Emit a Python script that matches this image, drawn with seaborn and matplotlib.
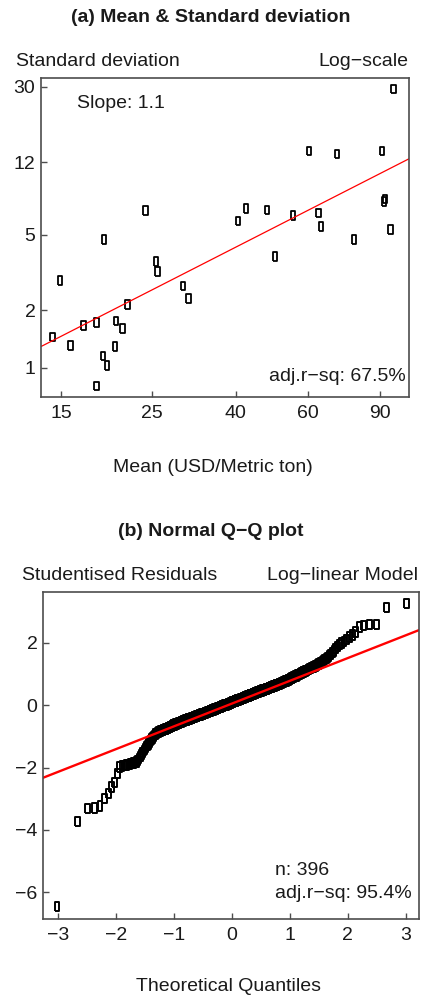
import matplotlib
matplotlib.use('Agg')
import matplotlib.pyplot as plt
import matplotlib.ticker as mticker
import seaborn as sns
import pandas as pd
import numpy as np
from statistics import NormalDist

# (a) mean vs standard deviation of prices (USD/metric ton)
mean_price = [14.3, 14.9, 15.8, 17.0, 18.3, 18.3, 19.0, 19.1, 19.4, 20.3, 20.4,
              21.2, 21.8, 24.1, 25.6, 25.8, 29.8, 30.7, 40.6, 42.4, 47.7, 49.9,
              55.3, 60.5, 63.7, 64.7, 70.8, 77.8, 91.0, 92.0, 92.5, 95.6, 97.2]
sd_price = [1.45, 2.86, 1.31, 1.66, 1.73, 0.80, 1.15, 4.74, 1.03, 1.29, 1.76,
            1.60, 2.14, 6.70, 3.60, 3.19, 2.69, 2.32, 5.90, 6.85, 6.75, 3.84,
            6.30, 13.8, 6.50, 5.52, 13.3, 4.74, 13.8, 7.50, 7.70, 5.31, 29.2]
fit_slope_a = 1.1          # log-log fit
fit_intercept_a = -2.6
adj_r2_a = 67.5

# (b) sorted studentised residuals of the log-linear model
resid_sorted = [
    -6.46, -3.74, -3.31, -3.30, -3.23, -2.99, -2.83, -2.62, -2.49, -2.19,
    -1.98, -1.95, -1.94, -1.92, -1.90, -1.89, -1.88, -1.86, -1.84, -1.82,
    -1.77, -1.72, -1.65, -1.58, -1.51, -1.45, -1.40, -1.34, -1.29, -1.24,
    -1.19, -1.14, -1.09, -1.05, -1.01, -0.98, -0.95, -0.92, -0.90, -0.88,
    -0.86, -0.85, -0.84, -0.83, -0.82, -0.81, -0.80, -0.79, -0.78, -0.77,
    -0.76, -0.75, -0.74, -0.73, -0.72, -0.71, -0.70, -0.69, -0.68, -0.67,
    -0.65, -0.64, -0.64, -0.63, -0.62, -0.61, -0.61, -0.60, -0.59, -0.58,
    -0.57, -0.57, -0.56, -0.55, -0.55, -0.54, -0.53, -0.53, -0.52, -0.51,
    -0.50, -0.50, -0.49, -0.49, -0.48, -0.47, -0.47, -0.46, -0.46, -0.45,
    -0.44, -0.44, -0.43, -0.43, -0.42, -0.42, -0.41, -0.41, -0.40, -0.40,
    -0.39, -0.39, -0.38, -0.37, -0.37, -0.36, -0.36, -0.35, -0.35, -0.34,
    -0.34, -0.33, -0.33, -0.32, -0.32, -0.31, -0.31, -0.30, -0.30, -0.29,
    -0.29, -0.28, -0.28, -0.27, -0.27, -0.26, -0.26, -0.25, -0.25, -0.24,
    -0.24, -0.23, -0.23, -0.22, -0.22, -0.21, -0.21, -0.20, -0.20, -0.19,
    -0.19, -0.18, -0.18, -0.17, -0.17, -0.16, -0.16, -0.15, -0.15, -0.14,
    -0.14, -0.13, -0.13, -0.12, -0.12, -0.11, -0.11, -0.10, -0.10, -0.09,
    -0.09, -0.08, -0.08, -0.08, -0.07, -0.07, -0.06, -0.06, -0.05, -0.05,
    -0.04, -0.04, -0.03, -0.03, -0.02, -0.02, -0.01, -0.01, 0.00, 0.00,
    0.01, 0.01, 0.01, 0.02, 0.02, 0.03, 0.03, 0.03, 0.04, 0.04,
    0.05, 0.05, 0.06, 0.06, 0.07, 0.08, 0.08, 0.09, 0.09, 0.10,
    0.10, 0.11, 0.11, 0.12, 0.12, 0.12, 0.13, 0.13, 0.14, 0.14,
    0.15, 0.15, 0.16, 0.16, 0.17, 0.17, 0.18, 0.18, 0.19, 0.19,
    0.19, 0.20, 0.20, 0.21, 0.21, 0.21, 0.22, 0.22, 0.23, 0.23,
    0.24, 0.24, 0.25, 0.25, 0.26, 0.26, 0.27, 0.27, 0.28, 0.28,
    0.29, 0.29, 0.30, 0.30, 0.31, 0.31, 0.32, 0.32, 0.33, 0.33,
    0.34, 0.34, 0.35, 0.35, 0.36, 0.36, 0.37, 0.37, 0.38, 0.38,
    0.39, 0.39, 0.40, 0.40, 0.41, 0.41, 0.42, 0.42, 0.43, 0.43,
    0.44, 0.44, 0.45, 0.45, 0.46, 0.46, 0.47, 0.47, 0.48, 0.48,
    0.49, 0.49, 0.50, 0.50, 0.51, 0.51, 0.52, 0.52, 0.53, 0.53,
    0.54, 0.54, 0.55, 0.56, 0.56, 0.57, 0.57, 0.58, 0.58, 0.59,
    0.60, 0.60, 0.61, 0.61, 0.62, 0.63, 0.63, 0.64, 0.64, 0.65,
    0.66, 0.66, 0.67, 0.68, 0.68, 0.69, 0.70, 0.70, 0.71, 0.72,
    0.73, 0.73, 0.74, 0.75, 0.76, 0.77, 0.77, 0.78, 0.79, 0.80,
    0.81, 0.82, 0.83, 0.84, 0.85, 0.86, 0.87, 0.88, 0.89, 0.90,
    0.91, 0.92, 0.93, 0.94, 0.96, 0.97, 0.98, 0.99, 1.01, 1.02,
    1.03, 1.04, 1.06, 1.07, 1.08, 1.10, 1.11, 1.12, 1.14, 1.15,
    1.17, 1.18, 1.20, 1.21, 1.23, 1.24, 1.26, 1.28, 1.30, 1.32,
    1.35, 1.37, 1.40, 1.43, 1.46, 1.49, 1.53, 1.58, 1.63, 1.68,
    1.74, 1.81, 1.88, 1.95, 2.00, 2.05, 2.10, 2.19, 2.25, 2.35,
    2.51, 2.56, 2.59, 2.59, 3.13, 3.26,
]
qq_slope = 0.73
qq_intercept = 0.05
adj_r2_b = 95.4

x_ticks_a = [15, 25, 40, 60, 90]
y_ticks_a = [1, 2, 5, 12, 30]
x_ticks_b = [-3, -2, -1, 0, 1, 2, 3]
y_ticks_b = [-6, -4, -2, 0, 2]

sns.set_style('white')
plt.rcParams['font.family'] = ['Liberation Sans', 'DejaVu Sans']
plt.rcParams['axes.unicode_minus'] = True

W, H = 422, 996
fig = plt.figure(figsize=(W / 100, H / 100), dpi=100)
txt = '#1a1a1a'
frame = '#4d4d4d'
box = [(-0.5, -1), (0.5, -1), (0.5, 1), (-0.5, 1), (-0.5, -1)]

def fx(x):
    return x / W

def fy(y):
    return 1 - y / H

def style_axes(ax):
    for s in ax.spines.values():
        s.set_color(frame)
        s.set_linewidth(1.2)
    ax.tick_params(bottom=True, left=True, direction='in', length=4, width=1,
                   color=frame, labelsize=14, labelcolor=txt)
    ax.tick_params(axis='x', pad=6)
    ax.tick_params(axis='y', pad=4)
    ax.set_xlabel('')
    ax.set_ylabel('')

# ---------------- panel (a) ----------------
ax1 = fig.add_axes([fx(41), fy(397), fx(409) - fx(41), fy(78) - fy(397)])
df_a = pd.DataFrame({'mean': mean_price, 'sd': sd_price})
ax1.set_xscale('log')
ax1.set_yscale('log')
sns.scatterplot(data=df_a, x='mean', y='sd', ax=ax1, marker=box, s=40,
                color='black', linewidth=1.3)
ax1.collections[-1].set_facecolor('none')
ax1.collections[-1].set_edgecolor('black')
x0, x1 = 10, 120
ax1.axline((x0, np.exp(fit_intercept_a) * x0 ** fit_slope_a),
           (x1, np.exp(fit_intercept_a) * x1 ** fit_slope_a),
           color='red', lw=0.9)
ax1.set_xlim(13.4, 106)
ax1.set_ylim(0.70, 33.4)
ax1.xaxis.set_major_locator(mticker.FixedLocator(x_ticks_a))
ax1.yaxis.set_major_locator(mticker.FixedLocator(y_ticks_a))
ax1.xaxis.set_major_formatter(mticker.FixedFormatter([str(v) for v in x_ticks_a]))
ax1.yaxis.set_major_formatter(mticker.FixedFormatter([str(v) for v in y_ticks_a]))
ax1.xaxis.set_minor_locator(mticker.NullLocator())
ax1.yaxis.set_minor_locator(mticker.NullLocator())
style_axes(ax1)

fig.text(fx(211), fy(18), '(a) Mean & Standard deviation', ha='center', va='center',
         fontsize=14, fontweight='bold', color=txt)
fig.text(fx(16), fy(62), 'Standard deviation', ha='left', va='center', fontsize=14, color=txt)
fig.text(fx(408), fy(62), 'Log\u2212scale', ha='right', va='center', fontsize=14, color=txt)
fig.text(fx(77), fy(103), f'Slope: {fit_slope_a}', ha='left', va='center', fontsize=14, color=txt)
fig.text(fx(406), fy(376), f'adj.r\u2212sq: {adj_r2_a}%', ha='right', va='center',
         fontsize=14, color=txt)
fig.text(fx(213), fy(467), 'Mean (USD/Metric ton)', ha='center', va='center',
         fontsize=14, color=txt)

# ---------------- panel (b) ----------------
n = len(resid_sorted)
theo_q = [NormalDist().inv_cdf((i - 0.5) / n) for i in range(1, n + 1)]
df_b = pd.DataFrame({'q': theo_q, 'resid': resid_sorted})
ax2 = fig.add_axes([fx(43), fy(919), fx(419) - fx(43), fy(592) - fy(919)])
sns.scatterplot(data=df_b, x='q', y='resid', ax=ax2, marker=box, s=46,
                color='black', linewidth=1.4)
ax2.collections[-1].set_facecolor('none')
ax2.collections[-1].set_edgecolor('black')
ax2.axline((0, qq_intercept), slope=qq_slope, color='red', lw=1.7)
ax2.set_xlim(-3.26, 3.23)
ax2.set_ylim(-6.86, 3.63)
ax2.set_xticks(x_ticks_b)
ax2.set_yticks(y_ticks_b)
style_axes(ax2)

fig.text(fx(211), fy(532), '(b) Normal Q\u2212Q plot', ha='center', va='center',
         fontsize=14, fontweight='bold', color=txt)
fig.text(fx(22), fy(575), 'Studentised Residuals', ha='left', va='center', fontsize=14, color=txt)
fig.text(fx(418), fy(575), 'Log\u2212linear Model', ha='right', va='center', fontsize=14, color=txt)
fig.text(fx(275), fy(870), f'n: {n}', ha='left', va='center', fontsize=14, color=txt)
fig.text(fx(275), fy(893), f'adj.r\u2212sq: {adj_r2_b}%', ha='left', va='center',
         fontsize=14, color=txt)
fig.text(fx(229), fy(986), 'Theoretical Quantiles', ha='center', va='center',
         fontsize=14, color=txt)

fig.savefig('out.png', dpi=100)
